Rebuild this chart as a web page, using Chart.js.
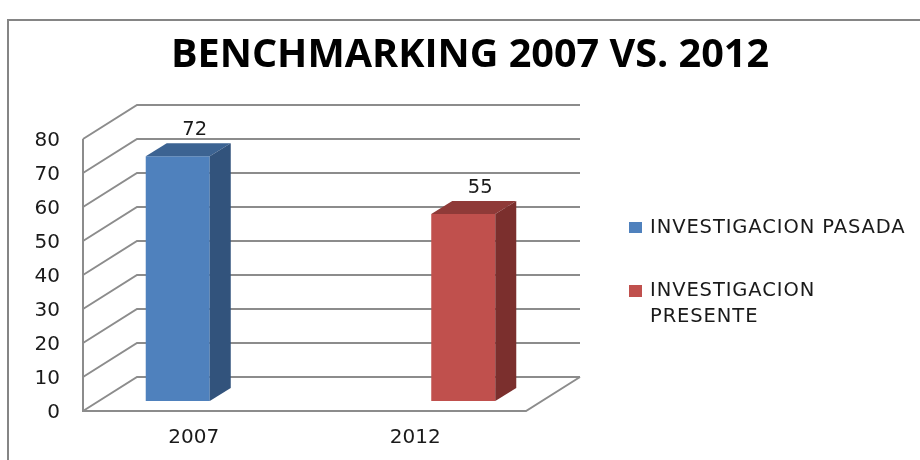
<!DOCTYPE html>
<html>
<head>
<meta charset="utf-8">
<title>Benchmarking 2007 vs. 2012</title>
<script src="https://cdn.jsdelivr.net/npm/chart.js@4/dist/chart.umd.min.js"></script>
<style>
  html, body { margin: 0; padding: 0; background: #fff; overflow: hidden; }
  canvas { display: block; }
</style>
</head>
<body>
<canvas id="bench" width="920" height="460"></canvas>
<script>
const chartTitle = "BENCHMARKING 2007 VS. 2012";
const categories = ["2007", "2012"];
const seriesPasada = [72, null];
const seriesPresente = [null, 55];
const pasadaLines = ["INVESTIGACION PASADA"];
const presenteLines = ["INVESTIGACION", "PRESENTE"];
const yTicks = [0, 10, 20, 30, 40, 50, 60, 70, 80];

const GRID = "#8c8c8c";
const TEXT = "#1a1a1a";

// pseudo 3d: how far the back wall sits from the front plane, and the bar depth
const WALL_X = 54, WALL_Y = 34;
const BAR_SHIFT_X = 16, BAR_SHIFT_Y = 10;
const BAR_DEPTH_X = 21, BAR_DEPTH_Y = 13;

const faces = [
    { top: "#3c6392", side: "#32537c" },
    { top: "#8f3a38", side: "#7b2f2d" },
];

const box3d = {
    id: "box3d",
    beforeDraw(chart) {
        const ctx = chart.ctx;
        const area = chart.chartArea;
        const y = chart.scales.y;

        // frame of the chart object, runs off the right and the bottom
        ctx.save();
        ctx.strokeStyle = "#858585";
        ctx.lineWidth = 2;
        ctx.strokeRect(8, 20, 1000, 600);

        ctx.fillStyle = "#000";
        ctx.font = "bold 39.6px 'Open Sans'";
        ctx.textAlign = "center";
        ctx.textBaseline = "middle";
        ctx.fillText(chartTitle, 470, 56);

        // walls
        ctx.strokeStyle = GRID;
        ctx.lineWidth = 2;
        yTicks.forEach((v) => {
            const py = y.getPixelForValue(v);
            ctx.beginPath();
            ctx.moveTo(area.left, py);
            ctx.lineTo(area.left + WALL_X, py - WALL_Y);
            ctx.lineTo(area.right + WALL_X, py - WALL_Y);
            ctx.stroke();
        });
        ctx.beginPath();
        ctx.moveTo(area.left, y.getPixelForValue(80));
        ctx.lineTo(area.left, area.bottom);
        ctx.lineTo(area.right, area.bottom);
        ctx.lineTo(area.right + WALL_X, area.bottom - WALL_Y);
        ctx.stroke();

        // legend
        ctx.font = "19.5px 'DejaVu Sans'";
        ctx.letterSpacing = "0.9px";
        ctx.textAlign = "left";
        ctx.fillStyle = chart.data.datasets[0].backgroundColor;
        ctx.fillRect(629, 222, 13, 11);
        ctx.fillStyle = chart.data.datasets[1].backgroundColor;
        ctx.fillRect(629, 285, 13, 12);
        ctx.fillStyle = TEXT;
        ctx.fillText(pasadaLines[0], 650, 228);
        ctx.fillText(presenteLines[0], 650, 291);
        ctx.fillText(presenteLines[1], 650, 317);
        ctx.restore();
    },
    beforeDatasetDraw(chart, args) {
        chart.ctx.save();
        chart.ctx.translate(BAR_SHIFT_X, -BAR_SHIFT_Y);
    },
    afterDatasetDraw(chart, args) {
        const ctx = chart.ctx;
        const colors = faces[args.index];
        args.meta.data.forEach((bar, i) => {
            if (chart.data.datasets[args.index].data[i] === null) return;
            const left = bar.x - bar.width / 2;
            const right = bar.x + bar.width / 2;
            ctx.fillStyle = colors.top;
            ctx.beginPath();
            ctx.moveTo(left, bar.y);
            ctx.lineTo(left + BAR_DEPTH_X, bar.y - BAR_DEPTH_Y);
            ctx.lineTo(right + BAR_DEPTH_X, bar.y - BAR_DEPTH_Y);
            ctx.lineTo(right, bar.y);
            ctx.closePath();
            ctx.fill();
            ctx.fillStyle = colors.side;
            ctx.beginPath();
            ctx.moveTo(right, bar.y);
            ctx.lineTo(right + BAR_DEPTH_X, bar.y - BAR_DEPTH_Y);
            ctx.lineTo(right + BAR_DEPTH_X, bar.base - BAR_DEPTH_Y);
            ctx.lineTo(right, bar.base);
            ctx.closePath();
            ctx.fill();
            // value label sits over the top face
            ctx.fillStyle = TEXT;
            ctx.font = "19.5px 'DejaVu Sans'";
            ctx.textAlign = "center";
            ctx.textBaseline = "middle";
            ctx.fillText(chart.data.datasets[args.index].data[i], bar.x + 17, bar.y - 26.5);
        });
        ctx.restore();
    },
};

const bench = document.getElementById("bench").getContext("2d");
const benchChart = new Chart(bench, {
    type: "bar",
    data: {
        labels: categories,
        datasets: [
            {
                label: pasadaLines.join(" "),
                data: seriesPasada,
                backgroundColor: "#4f81bd",
            },
            {
                label: presenteLines.join(" "),
                data: seriesPresente,
                backgroundColor: "#c0504d",
            },
        ],
    },
    options: {
        responsive: false,
        animation: false,
        categoryPercentage: 0.578,
        barPercentage: 1,
        layout: {
            padding: { top: 139, right: 394, left: 0, bottom: 0 },
        },
        plugins: {
            legend: { display: false },
            title: { display: false },
            tooltip: { enabled: false },
        },
        scales: {
            x: {
                grid: { display: false },
                border: { display: false },
                ticks: { color: TEXT, font: { family: "DejaVu Sans", size: 20 }, padding: 7, maxRotation: 0 },
                afterFit(scale) { scale.height = 49; },
            },
            y: {
                min: 0,
                max: 80,
                grid: { display: false },
                border: { display: false },
                ticks: { color: TEXT, font: { family: "DejaVu Sans", size: 20 }, padding: 15, stepSize: 10, labelOffset: 2 },
                afterFit(scale) { scale.width = 83; },
            },
        },
    },
    plugins: [box3d],
});
</script>
</body>
</html>
